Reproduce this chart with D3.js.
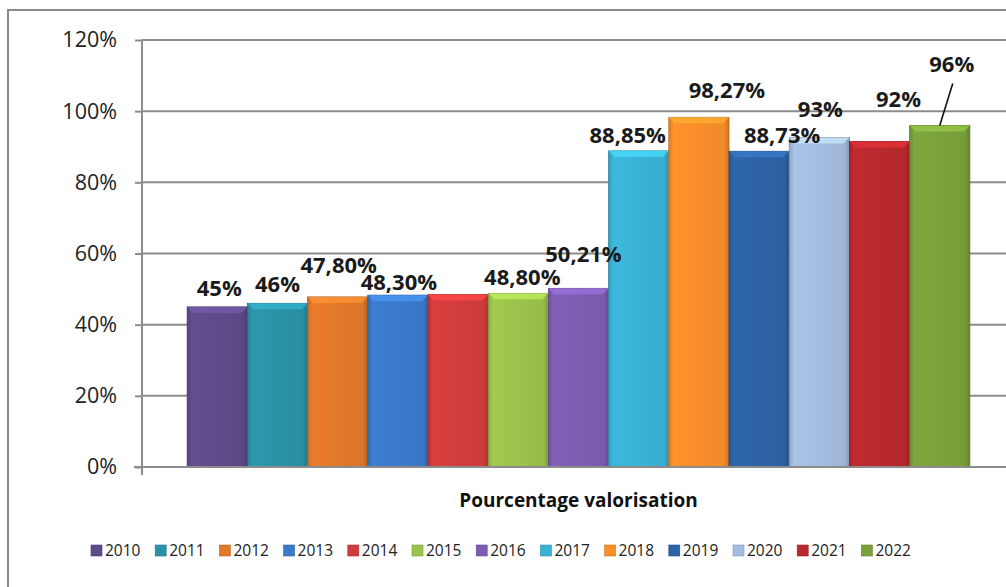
<!DOCTYPE html>
<html><head><meta charset="utf-8">
<script src="https://cdn.jsdelivr.net/npm/d3@7"></script>
<style>
html,body{margin:0;padding:0;background:#fff;}
svg{display:block;font-family:"Open Sans",sans-serif;}
</style></head>
<body>
<svg id="c" width="1006" height="587"></svg>
<script>
// ---- data ----
const years = ["2010","2011","2012","2013","2014","2015","2016","2017","2018","2019","2020","2021","2022"];
const values = [0.45, 0.46, 0.478, 0.483, 0.485, 0.488, 0.5021, 0.8885, 0.9827, 0.8873, 0.926, 0.915, 0.96];
const labels = ["45%","46%","47,80%","48,30%","","48,80%","50,21%","88,85%","98,27%","88,73%","93%","92%","96%"];
const yTicks = [0, 0.2, 0.4, 0.6, 0.8, 1.0, 1.2];
const axisTitle = "Pourcentage valorisation";
// label nudges [dx, dy] relative to default position (bar centre, just above bar top)
const labelNudge = [[2,0],[0,0],[1,-13],[1,6],[0,0],[4,3],[5,-15],[-11,3.5],[28,-8],[23,3],[1,-9],[19,-23],[12,-42]];
const colors = ["#5f4a8b","#2b93a8","#e2792a","#3b7acb","#d33c3c","#9bc34c","#7e5db3","#3ab3d6","#f98e2a","#2d63a5","#a4bce0","#b9292e","#7aa23b"];

const svg = d3.select("#c");
const W = 1006, H = 587;
const x0 = 142, x1 = 1015, yTop = 40, yBot = 467;

const x = d3.scaleBand().domain(years).range([x0, x1]).paddingInner(0).paddingOuter(0.75);
const y = d3.scaleLinear().domain([0, 1.2]).range([yBot, yTop]);

// outer border
svg.append("rect").attr("x", 8).attr("y", 10).attr("width", 1200).attr("height", 1000)
  .attr("fill", "#fff").attr("stroke", "#8a8a8a").attr("stroke-width", 2);

// gridlines
svg.append("g").selectAll("line").data(yTicks).join("line")
  .attr("x1", x0).attr("x2", W).attr("y1", d => y(d)).attr("y2", d => y(d))
  .attr("stroke", "#8c8c8c").attr("stroke-width", 2);

// y axis
const ya = svg.append("g").attr("transform", `translate(${x0},0)`)
  .call(d3.axisLeft(y).tickValues(yTicks).tickFormat(d3.format(".0%")).tickSize(7).tickPadding(18));
ya.select(".domain").remove();
ya.selectAll(".tick line").attr("stroke", "#8c8c8c").attr("stroke-width", 2);
ya.selectAll(".tick text").attr("font-size", 21.5).attr("fill", "#222").attr("font-family", "Open Sans");
svg.append("line").attr("x1", x0).attr("x2", x0).attr("y1", yTop).attr("y2", yBot + 8)
  .attr("stroke", "#8c8c8c").attr("stroke-width", 2);

// gradients
const defs = svg.append("defs");
colors.forEach((c, i) => {
  const g = defs.append("linearGradient").attr("id", "g" + i).attr("x1", 0).attr("x2", 1).attr("y1", 0).attr("y2", 0);
  const base = d3.color(c);
  g.append("stop").attr("offset", "0%").attr("stop-color", base.darker(0.35));
  g.append("stop").attr("offset", "8%").attr("stop-color", base.brighter(0.1));
  g.append("stop").attr("offset", "50%").attr("stop-color", base);
  g.append("stop").attr("offset", "92%").attr("stop-color", base.darker(0.1));
  g.append("stop").attr("offset", "100%").attr("stop-color", base.darker(0.6));
});

// bars
const bw = x.bandwidth();
const bars = svg.append("g").selectAll("g").data(years).join("g");
bars.append("rect")
  .attr("x", d => x(d)).attr("y", (d, i) => y(values[i]))
  .attr("width", bw).attr("height", (d, i) => yBot - y(values[i]))
  .attr("fill", (d, i) => `url(#g${i})`)
  .attr("stroke", (d, i) => d3.color(colors[i]).darker(0.8)).attr("stroke-width", 0.8);
// top bevel
bars.append("path")
  .attr("d", (d, i) => {
    const l = x(d), r = l + bw, t = y(values[i]), b = 6;
    return `M${l},${t}L${r},${t}L${r - b},${t + b}L${l + b},${t + b}Z`;
  })
  .attr("fill", (d, i) => d3.color(colors[i]).brighter(0.6)).attr("opacity", 0.75);

// labels
svg.append("g").selectAll("text").data(years).join("text")
  .attr("x", (d, i) => x(d) + bw / 2 + labelNudge[i][0])
  .attr("y", (d, i) => y(values[i]) - 11 + labelNudge[i][1])
  .attr("text-anchor", "middle").attr("font-size", 22).attr("font-weight", 700)
  .attr("fill", "#1a1a1a").text((d, i) => labels[i]);

// leader line for last label
{
  const i = years.length - 1;
  const cx = x(years[i]) + bw / 2;
  svg.append("line")
    .attr("x1", cx + labelNudge[i][0] + 1).attr("y1", y(values[i]) - 11 + labelNudge[i][1] + 11)
    .attr("x2", cx).attr("y2", y(values[i]))
    .attr("stroke", "#111").attr("stroke-width", 1.6);
}

// x axis line
svg.append("line").attr("x1", x0 - 8).attr("x2", W).attr("y1", yBot).attr("y2", yBot)
  .attr("stroke", "#8c8c8c").attr("stroke-width", 2);

// axis title
svg.append("text").attr("x", (x(years[0]) + x(years[years.length - 1]) + bw) / 2).attr("y", 507)
  .attr("text-anchor", "middle").attr("font-size", 19).attr("font-weight", 700).attr("fill", "#111")
  .text(axisTitle);

// legend
const lx = d3.scalePoint().domain(years).range([91, 91 + 64.2 * 12]);
const lg = svg.append("g").selectAll("g").data(years).join("g")
  .attr("transform", d => `translate(${lx(d)},545)`);
lg.append("rect").attr("width", 11).attr("height", 11)
  .attr("fill", (d, i) => colors[i]).attr("stroke", (d, i) => d3.color(colors[i]).darker(0.6)).attr("stroke-width", 0.6);
lg.append("text").attr("x", 14).attr("y", 11).attr("font-size", 15.5).attr("fill", "#222").text(d => d);
</script>
</body></html>
